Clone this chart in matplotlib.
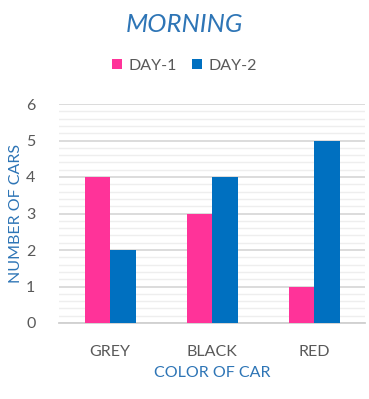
import numpy as np
import matplotlib
matplotlib.use("Agg")
import matplotlib.pyplot as plt
from matplotlib.ticker import MultipleLocator

plt.rcParams['font.family'] = ['Lato', 'DejaVu Sans']

colors_of_car = ['GREY', 'BLACK', 'RED']
day1 = [4, 3, 1]
day2 = [2, 4, 5]

pink = '#FF3399'
blue = '#0070C0'
label_blue = '#2E75B6'
tick_grey = '#595959'

fig = plt.figure(figsize=(3.69, 3.99), dpi=100)
ax = fig.add_axes([59 / 369, 1 - 323 / 399, 306 / 369, 219 / 399])

x = np.arange(len(colors_of_car))
w = 0.25
ax.bar(x - w / 2, day1, w, color=pink, label='DAY-1', zorder=3)
ax.bar(x + w / 2, day2, w, color=blue, label='DAY-2', zorder=3)

ax.set_xlim(-0.5, 2.5)
ax.set_ylim(0, 6)
ax.yaxis.set_major_locator(MultipleLocator(1))
ax.yaxis.set_minor_locator(MultipleLocator(0.2))
ax.grid(axis='y', which='major', color='#D9D9D9', linewidth=1.3, zorder=0)
ax.grid(axis='y', which='minor', color='#EEEEEE', linewidth=1.0, zorder=0)
ax.set_xticks(x)
ax.set_xticklabels(colors_of_car)
ax.tick_params(axis='both', which='both', length=0, labelsize=11.5, colors=tick_grey)
ax.tick_params(axis='x', pad=16)
ax.tick_params(axis='y', pad=17)
for s in ['top', 'right', 'left']:
    ax.spines[s].set_visible(False)
ax.spines['bottom'].set_color('#D0D0D0')
ax.spines['bottom'].set_linewidth(1.3)

ax.set_xlabel('COLOR OF CAR', color=label_blue, fontsize=11.5, labelpad=5)
ax.set_ylabel('NUMBER OF CARS', color=label_blue, fontsize=11.5, labelpad=2)

fig.text(0.5, 1 - 25 / 399, 'MORNING', ha='center', va='center',
         fontsize=18.5, style='italic', color=label_blue)
fig.legend(loc='center', bbox_to_anchor=(0.5, 1 - 66 / 399), ncol=2, frameon=False,
           fontsize=11.5, handlelength=0.6, handleheight=0.6, handletextpad=0.4,
           columnspacing=1.0, labelcolor=tick_grey)

fig.savefig('out.png', dpi=100, facecolor='white')
